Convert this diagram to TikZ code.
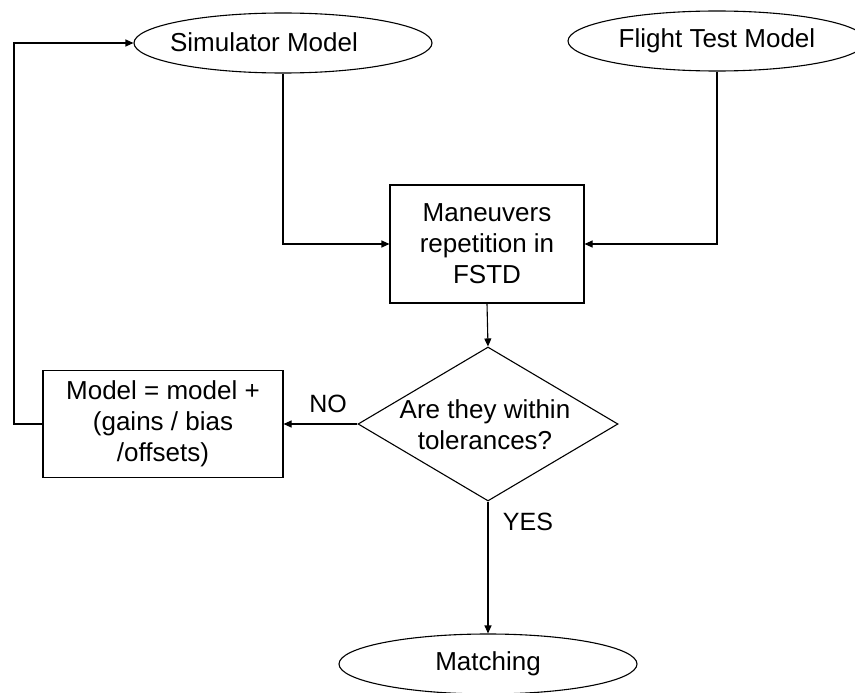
\documentclass[tikz,border=0pt]{standalone}
\usepackage{fontspec}
\setmainfont{Liberation Sans}
\usetikzlibrary{shapes.geometric,arrows.meta}
\begin{document}
\begin{tikzpicture}[x=1pt,y=-1pt,
  every node/.style={font=\fontsize{26}{31}\selectfont, align=center, inner sep=0pt},
  oval/.style={draw, line width=1.1pt, ellipse, minimum width=298pt, minimum height=60pt},
  boxnode/.style={draw, line width=1.1pt, rectangle},
  decision/.style={draw, line width=1.1pt, diamond, aspect=1.69, minimum width=260pt, minimum height=154pt},
  conn/.style={line width=1.1pt, -{Triangle[length=8pt,width=7pt]}},
  lbl/.style={font=\fontsize{25}{30}\selectfont}]
\useasboundingbox (0,0) rectangle (855,693);
\node[oval] (sim) at (283,43) {};
\node (simtext) at (264,42) {Simulator Model};
\node[oval] (flt) at (717,41) {Flight Test Model};
\node[boxnode, minimum width=194pt, minimum height=118pt] (man) at (487,244) {Maneuvers\\repetition in\\FSTD};
\node[decision] (dec) at (488,424) {};
\node (dectext) at (485,425) {Are they within\\tolerances?};
\node[boxnode, minimum width=240pt, minimum height=107pt] (mod) at (163,424) {Model = model +\\(gains / bias\\/offsets)};
\node[oval] (match) at (488,664) {Matching};
\node[lbl] (no) at (328,404) {NO};
\node[lbl] (yes) at (528,522) {YES};
\coordinate (fbk) at (14,424);
\draw[conn] (sim.south) |- (man.west);
\draw[conn] (flt.south) |- (man.east);
\draw[conn] (man.south) -- (dec.north);
\draw[conn] (dec.west) -- (mod.east);
\draw[conn] (dec.south) -- (match.north);
\draw[conn] (mod.west) -- (fbk) |- (sim.west);
\end{tikzpicture}
\end{document}
